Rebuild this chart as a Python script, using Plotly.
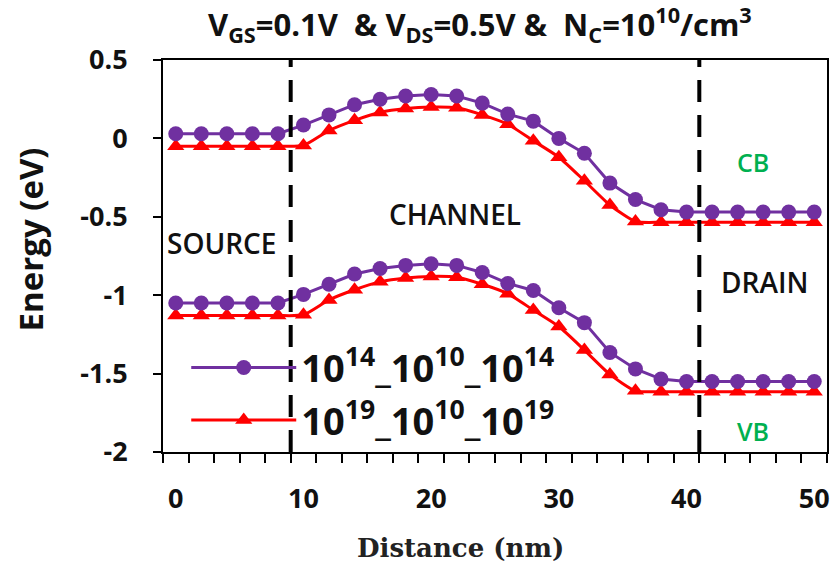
import plotly.graph_objects as go

# Position along the device (nm)
distance = [0, 2, 4, 6, 8, 10, 12, 14, 16, 18, 20, 22, 24, 26, 28, 30,
            32, 34, 36, 38, 40, 42, 44, 46, 48, 50]

# Conduction band edge (eV)
cb_1e14 = [0.03, 0.03, 0.03, 0.03, 0.03, 0.085, 0.15, 0.215, 0.25, 0.27, 0.28,
           0.27, 0.225, 0.155, 0.11, 0.0, -0.095, -0.285, -0.39, -0.455, -0.47,
           -0.47, -0.47, -0.47, -0.47, -0.47]
cb_1e19 = [-0.05, -0.05, -0.05, -0.05, -0.05, -0.045, 0.05, 0.115, 0.165, 0.19, 0.2,
           0.195, 0.15, 0.09, -0.015, -0.12, -0.27, -0.425, -0.53, -0.535, -0.535,
           -0.535, -0.535, -0.535, -0.535, -0.535]

# Valence band edge (eV)
vb_1e14 = [-1.05, -1.05, -1.05, -1.05, -1.05, -0.995, -0.93, -0.865, -0.83, -0.81, -0.80,
           -0.81, -0.855, -0.925, -0.97, -1.08, -1.175, -1.365, -1.47, -1.535, -1.55,
           -1.55, -1.55, -1.55, -1.55, -1.55]
vb_1e19 = [-1.13, -1.13, -1.13, -1.13, -1.13, -1.125, -1.03, -0.965, -0.915, -0.89, -0.88,
           -0.885, -0.93, -0.99, -1.095, -1.2, -1.35, -1.505, -1.61, -1.615, -1.615,
           -1.615, -1.615, -1.615, -1.615, -1.615]

series_names = ["10<sup>14</sup>_10<sup>10</sup>_10<sup>14</sup>",
                "10<sup>19</sup>_10<sup>10</sup>_10<sup>19</sup>"]

# Source/channel and channel/drain boundaries (nm)
boundaries = [9, 41]

x_ticks = [0, 10, 20, 30, 40, 50]
y_ticks = [0.5, 0, -0.5, -1, -1.5, -2]
y_tick_text = ["0.5", "0", "-0.5", "-1", "-1.5", "-2"]

PURPLE = "#7030A0"
RED = "#FF0000"
GREEN = "#00B050"
FONT = "Open Sans"
NB = "\u00a0"

fig = go.Figure()

purple_style = dict(mode="lines+markers",
                    line=dict(color=PURPLE, width=3),
                    marker=dict(symbol="circle", size=15, color=PURPLE))
red_style = dict(mode="lines+markers",
                 line=dict(color=RED, width=3, shape="spline", smoothing=0.6),
                 marker=dict(symbol="triangle-up", size=15, color=RED))

fig.add_trace(go.Scatter(x=distance, y=cb_1e19, name=series_names[1],
                         legendgroup="b", showlegend=False, **red_style))
fig.add_trace(go.Scatter(x=distance, y=cb_1e14, name=series_names[0],
                         legendgroup="a", showlegend=False, **purple_style))
fig.add_trace(go.Scatter(x=distance, y=vb_1e19, name=series_names[1],
                         legendgroup="b", showlegend=True, **red_style))
fig.add_trace(go.Scatter(x=distance, y=vb_1e14, name=series_names[0],
                         legendgroup="a", showlegend=True, **purple_style))

for b in boundaries:
    fig.add_shape(type="line", x0=b, x1=b, y0=0, y1=1, xref="x", yref="paper",
                  line=dict(color="black", width=4, dash="22px,13px"))

region_labels = [
    ("SOURCE", 3.6, -0.67, "#111", 28),
    ("CHANNEL", 21.9, -0.48, "#111", 28),
    ("DRAIN", 46.1, -0.915, "#111", 28),
    ("CB", 45.2, -0.15, GREEN, 25),
    ("VB", 45.2, -1.865, GREEN, 25),
]
for text, x, y, color, size in region_labels:
    fig.add_annotation(x=x, y=y, text=text, showarrow=False,
                       font=dict(family=FONT, size=size, color=color, weight=600))

title_text = ("V<sub>GS</sub>=0.1V" + NB * 2 + "& V<sub>DS</sub>=0.5V & " + NB +
              "N<sub>C</sub>=10<sup>10</sup>/cm<sup>3</sup>")
fig.add_annotation(xref="paper", yref="paper", x=0.477, y=1.0, yshift=36,
                   xanchor="center", yanchor="middle",
                   text=title_text, showarrow=False,
                   font=dict(family=FONT, size=31, color="#111", weight="bold"))

fig.add_annotation(xref="paper", yref="paper", x=-0.199, y=0.542, textangle=-90,
                   xanchor="center", yanchor="middle",
                   text="Energy (eV)", showarrow=False,
                   font=dict(family=FONT, size=33, color="#111", weight="bold"))

fig.add_annotation(xref="paper", yref="paper", x=0.448, y=0, yshift=-96,
                   xanchor="center", yanchor="middle",
                   text="Distance (nm)", showarrow=False,
                   font=dict(family="DejaVu Serif", size=26, color="#222", weight="bold"))

fig.update_layout(
    width=836, height=565,
    margin=dict(l=163, r=6, t=60, b=113),
    paper_bgcolor="white", plot_bgcolor="white",
    showlegend=True,
    legend=dict(x=0.035, y=0.295, xanchor="left", yanchor="top",
                bgcolor="rgba(0,0,0,0)", traceorder="reversed",
                itemwidth=105, tracegroupgap=0,
                font=dict(family=FONT, size=38, color="#111", weight="bold")),
)

fig.update_xaxes(range=[-1, 51], tickvals=x_ticks, ticks="", ticklen=0,
                 showgrid=False, zeroline=False,
                 showline=True, linecolor="black", linewidth=2, mirror=True,
                 ticklabelstandoff=22,
                 tickfont=dict(family=FONT, size=27, color="#111", weight="bold"),
                 minor=dict(tick0=-1, dtick=2, ticks="outside", ticklen=9,
                            tickwidth=2, tickcolor="black", showgrid=False))

fig.update_yaxes(range=[-2, 0.5], tickvals=y_ticks, ticktext=y_tick_text,
                 ticks="outside", ticklen=8, tickwidth=2, tickcolor="black",
                 showgrid=False, zeroline=False,
                 showline=True, linecolor="black", linewidth=2, mirror=True,
                 ticklabelstandoff=20,
                 tickfont=dict(family=FONT, size=27, color="#111", weight="bold"))

fig.write_html("out.html")
